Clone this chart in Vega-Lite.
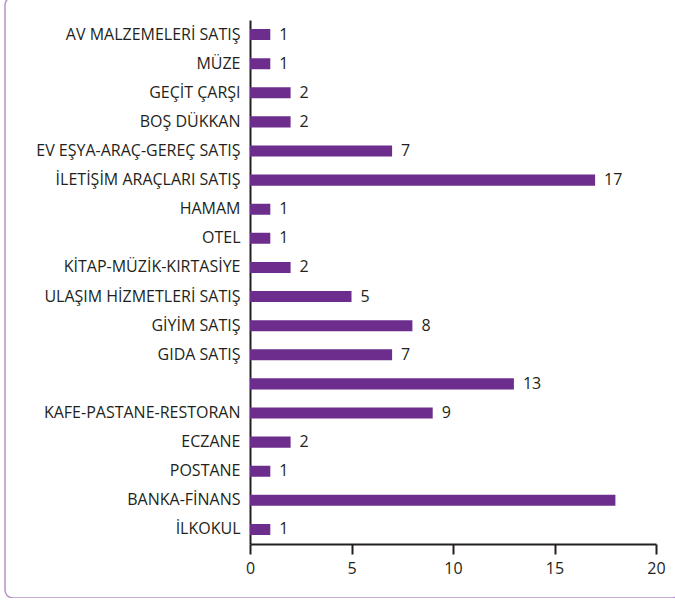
{
  "$schema": "https://vega.github.io/schema/vega-lite/v6.json",
  "autosize": "none",
  "width": 675,
  "height": 601,
  "padding": {"left": 5, "top": -3, "right": 0, "bottom": 0},
  "background": "white",
  "config": {
    "view": {"stroke": "#b592cc", "strokeWidth": 1.5, "cornerRadius": 8},
    "font": "Open Sans",
    "axis": {"labelFont": "Open Sans", "labelColor": "#231f20", "labelFontSize": 16, "domainColor": "#231f20", "domainWidth": 2, "grid": false, "title": null}
  },
  "data": {
    "values": [
      {"kategori": "AV MALZEMELERİ SATIŞ", "deger": 1, "etiket": "1"},
      {"kategori": "MÜZE", "deger": 1, "etiket": "1"},
      {"kategori": "GEÇİT ÇARŞI", "deger": 2, "etiket": "2"},
      {"kategori": "BOŞ DÜKKAN", "deger": 2, "etiket": "2"},
      {"kategori": "EV EŞYA-ARAÇ-GEREÇ SATIŞ", "deger": 7, "etiket": "7"},
      {"kategori": "İLETİŞİM ARAÇLARI SATIŞ", "deger": 17, "etiket": "17"},
      {"kategori": "HAMAM", "deger": 1, "etiket": "1"},
      {"kategori": "OTEL", "deger": 1, "etiket": "1"},
      {"kategori": "KİTAP-MÜZİK-KIRTASİYE", "deger": 2, "etiket": "2"},
      {"kategori": "ULAŞIM HİZMETLERİ SATIŞ", "deger": 5, "etiket": "5"},
      {"kategori": "GİYİM SATIŞ", "deger": 8, "etiket": "8"},
      {"kategori": "GIDA SATIŞ", "deger": 7, "etiket": "7"},
      {"kategori": " ", "deger": 13, "etiket": "13"},
      {"kategori": "KAFE-PASTANE-RESTORAN", "deger": 9, "etiket": "9"},
      {"kategori": "ECZANE", "deger": 2, "etiket": "2"},
      {"kategori": "POSTANE", "deger": 1, "etiket": "1"},
      {"kategori": "BANKA-FİNANS", "deger": 18, "etiket": ""},
      {"kategori": "İLKOKUL", "deger": 1, "etiket": "1"}
    ]
  },
  "encoding": {
    "y": {
      "field": "kategori", "type": "nominal", "sort": null,
      "scale": {"range": [23, 547], "paddingInner": 0.62, "paddingOuter": 0.31},
      "axis": {"offset": -245, "ticks": false, "labelPadding": 10, "labelLimit": 400}
    },
    "x": {
      "field": "deger", "type": "quantitative",
      "scale": {"domain": [0, 20], "range": [245, 651], "nice": false},
      "axis": {"offset": -54, "values": [0, 5, 10, 15, 20], "tickSize": 10, "tickWidth": 2, "tickColor": "#231f20", "labelPadding": 6, "labelFontSize": 16, "labelFlush": false}
    }
  },
  "layer": [
    {"mark": {"type": "bar", "color": "#6c2d8d"}},
    {"mark": {"type": "text", "align": "left", "baseline": "middle", "dx": 9, "fontSize": 16, "color": "#231f20"},
     "encoding": {"text": {"field": "etiket"}}}
  ]
}
